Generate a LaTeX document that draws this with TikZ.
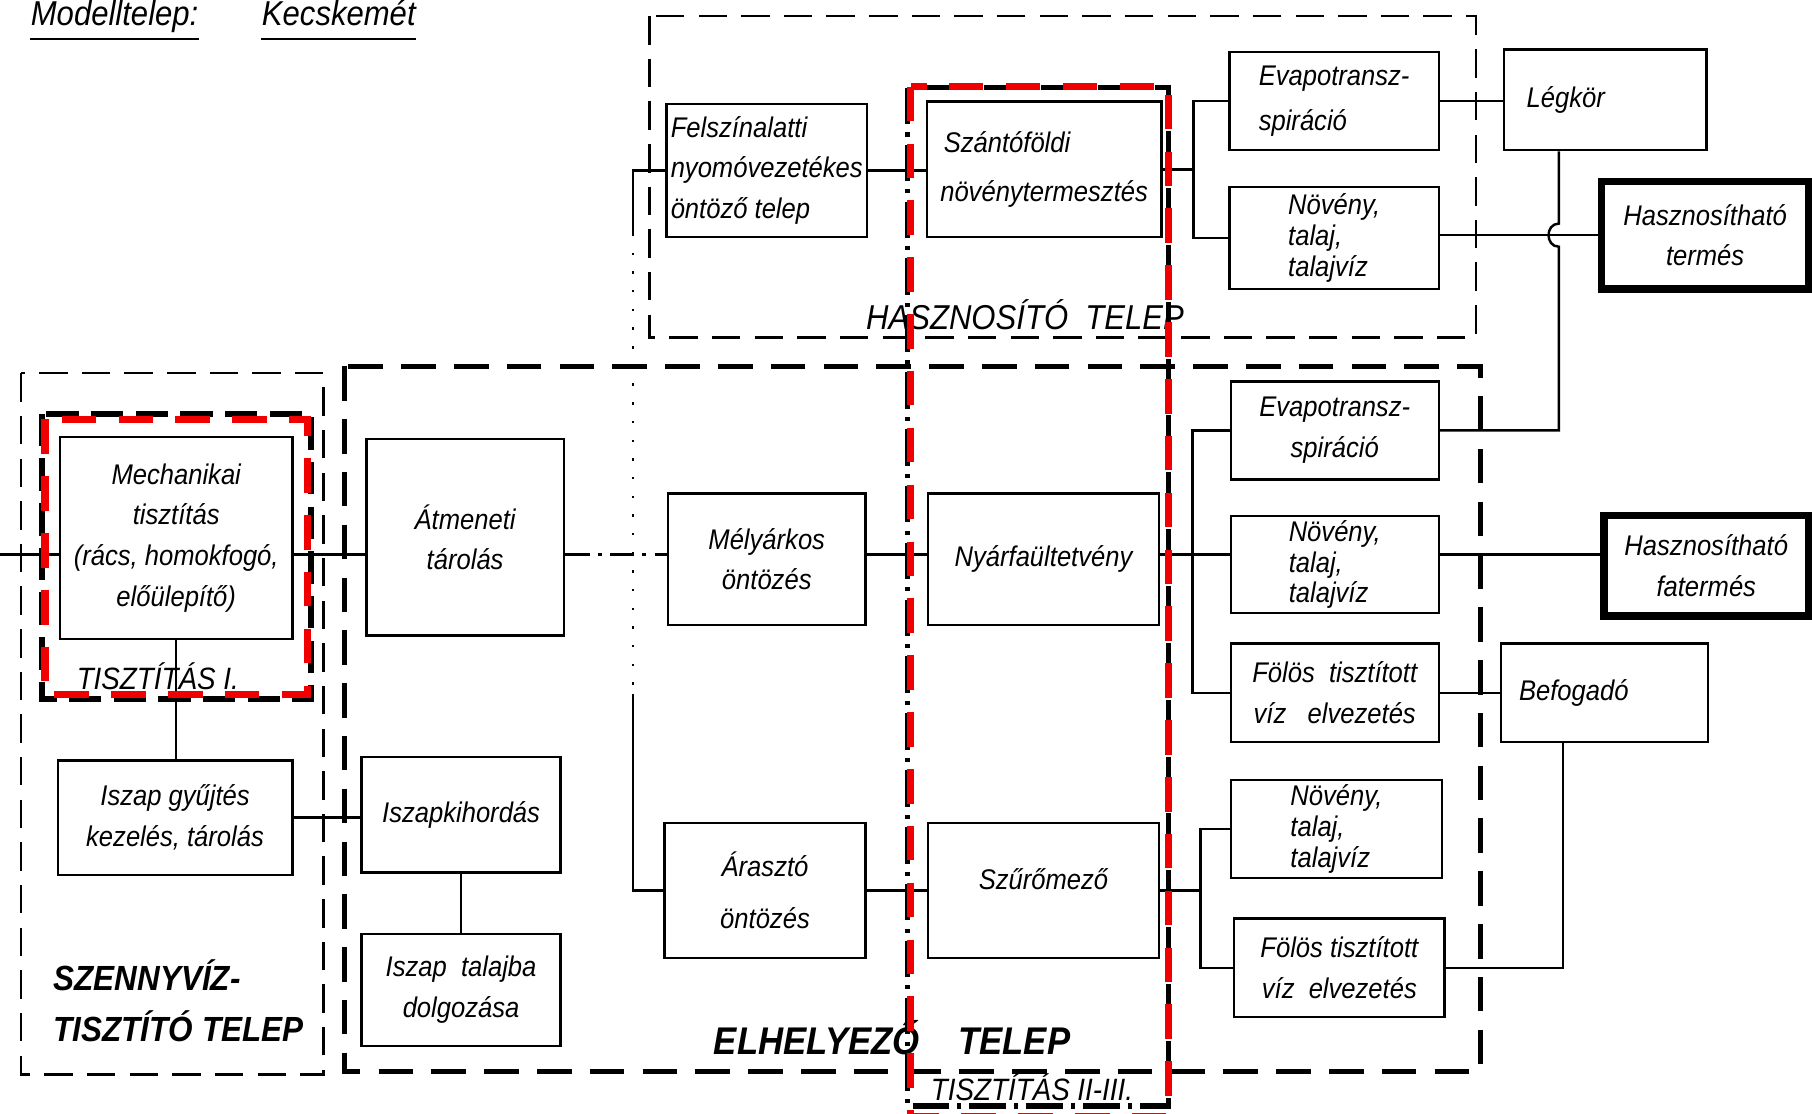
\documentclass[tikz,border=0pt]{standalone}
\usepackage{fontspec}
\setsansfont{Liberation Sans}[FakeStretch=0.9]
\usepackage{tikz}
\usetikzlibrary{positioning,calc}
\definecolor{ScanRed}{HTML}{F00000}

\begin{document}
\begin{tikzpicture}[x=0.1mm,y=-0.1mm,
  box/.style={draw, line width=0.6pt, inner sep=1pt, align=center, font=\sffamily\itshape\fontsize{7}{10}\selectfont},
  boldbox/.style={box, line width=1.8pt},
  tightbox/.style={box, align=left, font=\sffamily\itshape\fontsize{7}{7.6}\selectfont},
  frame/.style={line width=0.6pt, dash pattern=on 7pt off 3.5pt},
  heavyframe/.style={line width=1.2pt, dash pattern=on 8.5pt off 4.5pt},
  redframe/.style={draw=ScanRed, line width=1.8pt, dash pattern=on 8.5pt off 5.5pt},
  link/.style={line width=0.6pt},
  label/.style={font=\sffamily\itshape\fontsize{7.6}{10}\selectfont},
  heading/.style={font=\sffamily\itshape\fontsize{8.5}{10}\selectfont, anchor=base west, inner sep=0pt},
  biglabel/.style={font=\sffamily\bfseries\itshape\fontsize{9.5}{12.8}\selectfont, align=left}]
  \useasboundingbox (0,0) rectangle (1568,964);
  \clip (0,0) rectangle (1568,964);

  % heading
  \node[heading] (place) at (26,22) {Modelltelep:};
  \node[heading] (town) at (226,22) {Kecskemét};
  \draw[link] ([yshift=-1.2mm]place.base west) -- ([yshift=-1.2mm]place.base east);
  \draw[link] ([yshift=-1.2mm]town.base west) -- ([yshift=-1.2mm]town.base east);

  % sites
  \draw[frame] (562,14) rectangle (1277,292);
  \draw[frame] (18,323) rectangle (280,930);
  \draw[heavyframe] (298,317) rectangle (1281,927);
  \draw[line width=1.5pt, dash pattern=on 8pt off 3pt] (36,358) rectangle (269,605);
  \draw[line width=1.3pt, dash pattern=on 9pt off 2pt on 1pt off 2pt] (785,76) rectangle (1011,957);

  % upper row (utilisation)
  \node[box, align=left, minimum width=17.3mm, minimum height=11.5mm] (felsz) at (663.5,147.5) {Felszínalatti\\nyomóvezetékes\\öntöző telep};
  \node[box, align=left, minimum width=20.3mm, minimum height=11.7mm, font=\sffamily\itshape\fontsize{7}{12}\selectfont] (szanto) at (903.5,146.5) {\hspace*{0.3mm}Szántóföldi\\növénytermesztés};
  \node[box, align=left, minimum width=18.1mm, minimum height=8.5mm, font=\sffamily\itshape\fontsize{7}{11}\selectfont] (evapoA) at (1154.5,87.5) {Evapotransz-\\spiráció};
  \node[tightbox, minimum width=18.1mm, minimum height=8.8mm] (novA) at (1154.5,206) {Növény,\\talaj,\\talajvíz};
  \node[box, align=left, text width=16.8mm, minimum height=8.7mm] (legkor) at (1389,86.5) {\hspace*{1.6mm}Légkör};
  \node[boldbox, minimum width=17.9mm, minimum height=9.3mm] (haszn) at (1475.5,203.5) {Hasznosítható\\termés};

  % wastewater plant
  \node[box, minimum width=20.1mm, minimum height=17.5mm] (mech) at (152.5,465.5) {Mechanikai\\tisztítás\\(rács, homokfogó,\\előülepítő)};
  \node[box, minimum width=20.3mm, minimum height=9.9mm] (iszgy) at (151.5,707.5) {Iszap gyűjtés\\kezelés, tárolás};

  % disposal site
  \node[box, minimum width=17.1mm, minimum height=17mm] (atm) at (402.5,465) {Átmeneti\\tárolás};
  \node[box, minimum width=17.1mm, minimum height=11.4mm] (mely) at (663.5,484) {Mélyárkos\\öntözés};
  \node[box, minimum width=20mm, minimum height=11.4mm] (nyar) at (903,484) {Nyárfaültetvény};
  \node[box, minimum width=18mm, minimum height=8.5mm] (evapoB) at (1155,372.5) {Evapotransz-\\spiráció};
  \node[tightbox, minimum width=18mm, minimum height=8.3mm] (novB) at (1155,488.5) {Növény,\\talaj,\\talajvíz};
  \node[box, minimum width=18mm, minimum height=8.5mm] (folB) at (1155,599.5) {Fölös\ \ tisztított\\víz\ \ \ elvezetés};
  \node[box, align=left, text width=17.2mm, minimum height=8.5mm] (befog) at (1388.5,599.5) {\hspace*{1.2mm}Befogadó};
  \node[boldbox, minimum width=17.7mm, minimum height=8.7mm] (hfat) at (1476.5,489.5) {Hasznosítható\\fatermés};
  \node[box, minimum width=17.2mm, minimum height=10mm] (kihord) at (399,705) {Iszapkihordás};
  \node[box, minimum width=17.2mm, minimum height=9.7mm] (talajba) at (399,856.5) {Iszap\ \ talajba\\dolgozása};
  \node[box, minimum width=17.4mm, minimum height=11.7mm, font=\sffamily\itshape\fontsize{7}{13}\selectfont] (araszto) at (662,770.5) {Árasztó\\öntözés};
  \node[box, minimum width=20mm, minimum height=11.7mm, text depth=2mm] (szuro) at (903,770.5) {Szűrőmező};
  \node[tightbox, minimum width=18.3mm, minimum height=8.5mm] (novC) at (1156.5,717.5) {Növény,\\talaj,\\talajvíz};
  \node[box, minimum width=18.2mm, minimum height=8.5mm] (folC) at (1159,837.5) {Fölös tisztított\\víz\ \ elvezetés};

  % main flow
  \coordinate (flow) at (0,480);
  \coordinate (trunk) at (548,480);
  \draw[link] (flow) -- (mech.west |- flow);
  \draw[link] (mech.east |- flow) -- (atm.west |- flow);
  \draw[link, dash pattern=on 6pt off 2pt on 1pt off 2pt] (atm.east |- flow) -- (mely.west |- flow);
  \draw[link] (mely.east |- flow) -- (nyar.west |- flow);
  \draw[link] (nyar.east |- flow) -- (novB.west |- flow);
  \draw[link] (novB.east |- flow) -- (hfat.west |- flow);

  % branches of the distribution
  \draw[link] (felsz.west) -| ($(felsz.west -| trunk)+(0,55)$);
  \draw[link, loosely dotted] ($(felsz.west -| trunk)+(0,55)$) -- ($(araszto.west -| trunk)+(0,-170)$);
  \draw[link] ($(araszto.west -| trunk)+(0,-170)$) |- (araszto.west);
  \draw[link] (felsz.east) -- (szanto.west |- felsz.east);
  \draw[link] (araszto.east) -- (szuro.west |- araszto.east);

  % outlets
  \coordinate (bA) at ([xshift=-3mm]evapoA.west);
  \draw[link] (evapoA.west) -- (bA) |- (novA.west);
  \draw[link] (szanto.east) -- (szanto.east -| bA);
  \coordinate (bB) at ([xshift=-3.2mm]evapoB.west);
  \draw[link] (evapoB.west) -- (bB) |- (folB.west);
  \coordinate (bC) at ([xshift=-2.5mm]novC.west);
  \draw[link] (novC.west) -- (bC) |- (folC.west);
  \draw[link] (szuro.east) -- (szuro.east -| bC);

  \draw[link] (evapoA.east) -- (legkor.west |- evapoA.east);
  \draw[link] (novA.east |- haszn.west) -- (haszn.west);
  \coordinate (hop) at ([xshift=-4mm]legkor.south);
  \draw[link] (hop) -- ($(hop |- haszn.west)+(0,-10)$) .. controls +(-12,0) and +(-12,0) .. ($(hop |- haszn.west)+(0,10)$) |- (evapoB.east);
  \draw[link] (folB.east) -- (befog.west |- folB.east);
  \coordinate (bf) at ([xshift=-3.6mm]befog.south);
  \draw[link] (bf) |- (folC.east);

  % sludge line
  \draw[link] (mech.south) -- (mech.south |- iszgy.north);
  \draw[link] (iszgy.east) -- (kihord.west |- iszgy.east);
  \draw[link] (kihord.south) -- (talajba.north);

  % site names
  \node[label, font=\sffamily\itshape\fontsize{8.5}{10}\selectfont] (hlabel) at (887,272) {HASZNOSÍTÓ\ \ TELEP};
  \node[biglabel] (elabel) at (772,898) {ELHELYEZŐ\ \ \ \ TELEP};
  \node[biglabel, anchor=west, font=\sffamily\bfseries\itshape\fontsize{8.6}{12.8}\selectfont] (slabel) at (34,866) {SZENNYVÍZ-\\TISZTÍTÓ\ TELEP};
  \node[label, anchor=west] (t1label) at (54,585) {TISZTÍTÁS I.};
  \node[label] (t23label) at (893,941) {TISZTÍTÁS II-III.};

  % marked cleaning stages
  \draw[redframe] (39,363) rectangle (266,601);
  \draw[redframe] (788,75) rectangle (1011,966);
\end{tikzpicture}
\end{document}
